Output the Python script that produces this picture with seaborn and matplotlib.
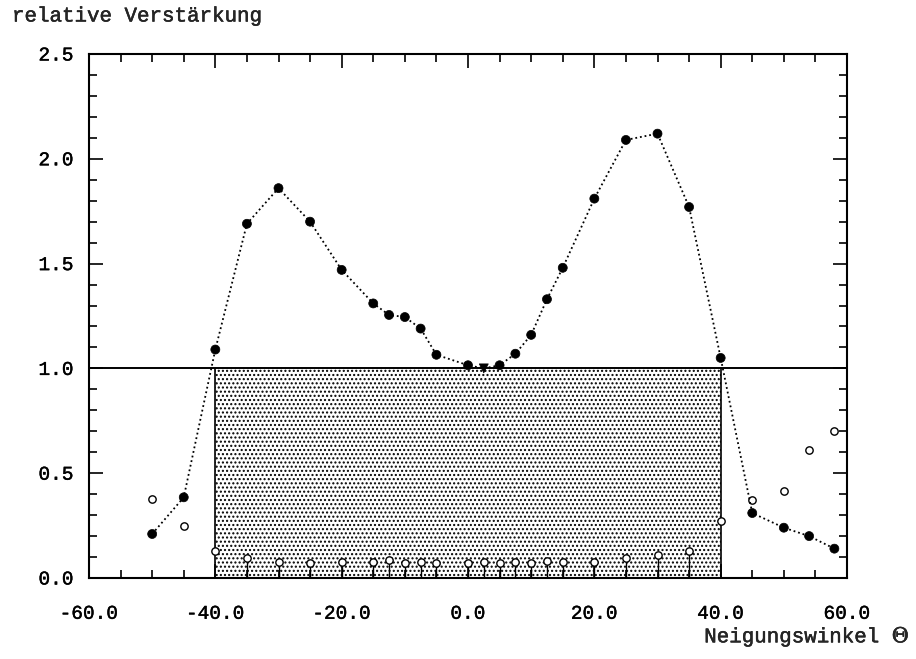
import matplotlib
matplotlib.use("Agg")
import matplotlib.pyplot as plt
import matplotlib.patheffects as pe
from matplotlib.ticker import MultipleLocator, FormatStrFormatter
import numpy as np
import pandas as pd
import seaborn as sns

# Neigungswinkel der Messpunkte (Grad)
winkel = [-50, -45, -40, -35, -30, -25, -20, -15, -12.5, -10, -7.5, -5, 0, 2.5,
          5, 7.5, 10, 12.5, 15, 20, 25, 30, 35, 40, 45, 50, 54, 58]
# relative Verstaerkung, Hauptmessung (gefuellte Symbole)
verstaerkung = [0.21, 0.385, 1.09, 1.69, 1.86, 1.70, 1.47, 1.31, 1.255, 1.245,
                1.19, 1.065, 1.015, 1.00, 1.015, 1.07, 1.16, 1.33, 1.48, 1.81,
                2.09, 2.12, 1.77, 1.05, 0.31, 0.24, 0.20, 0.14]
# Vergleichsmessung (offene Symbole)
vergleich = [0.375, 0.25, 0.13, 0.095, 0.076, 0.072, 0.076, 0.076, 0.086, 0.072,
             0.076, 0.072, 0.072, 0.076, 0.072, 0.076, 0.072, 0.08, 0.076, 0.076,
             0.095, 0.11, 0.13, 0.27, 0.37, 0.415, 0.61, 0.70]
# Winkel des Minimums (Dreieckssymbol)
minimum_winkel = 2.5
# Nutzbarer Winkelbereich und Referenzniveau
bereich = [-40, 40]
referenz = 1.0
# Achsenbeschriftung
x_ticks = [-60, -40, -20, 0, 20, 40, 60]
y_ticks = [0.0, 0.5, 1.0, 1.5, 2.0, 2.5]

df = pd.DataFrame({"winkel": winkel, "verstaerkung": verstaerkung,
                   "vergleich": vergleich})
df["form"] = np.where(df["winkel"] == minimum_winkel, "Dreieck", "Kreis")

sns.set_style("ticks")
plt.rcParams["font.family"] = ["Liberation Mono", "DejaVu Sans Mono"]
plt.rcParams["mathtext.fontset"] = "dejavuserif"
plt.rcParams["hatch.linewidth"] = 1.0
plt.rcParams["hatch.color"] = "black"

kraeftig = [pe.withStroke(linewidth=0.3, foreground="black")]

fig = plt.figure(figsize=(9.16, 6.59), dpi=100)
ax = fig.add_axes([89 / 916, 1 - 578 / 659, (847 - 89) / 916, (578 - 54) / 659])

# gepunktete Flaeche des nutzbaren Bereichs
ax.fill_between(bereich, 0, referenz, facecolor="none", edgecolor="black",
                hatch="....", linewidth=0, zorder=1)
ax.vlines(bereich, 0, referenz, color="black", lw=1.2, zorder=2)
ax.axhline(referenz, color="black", lw=1.4, zorder=2)

# Vergleichsmessung mit Stielen im nutzbaren Bereich
innen = df[(df["winkel"] > bereich[0]) & (df["winkel"] < bereich[1])]
ax.vlines(innen["winkel"], 0, innen["vergleich"] - 0.012, color="black",
          lw=1.0, zorder=3)
sns.scatterplot(data=df, x="winkel", y="vergleich", ax=ax, marker="o",
                s=28, facecolor="white", edgecolor="black", linewidth=1.0,
                zorder=4, legend=False)

# Hauptmessung: gepunktete Verbindungslinie und gefuellte Symbole
sns.lineplot(data=df, x="winkel", y="verstaerkung", ax=ax, color="black",
             lw=1.3, linestyle=(0, (1, 1.6)), zorder=5, legend=False,
             sort=False)
sns.scatterplot(data=df, x="winkel", y="verstaerkung", ax=ax, style="form",
                markers={"Kreis": "o", "Dreieck": "v"}, s=42, color="black",
                edgecolor="black", linewidth=0.5, zorder=6, legend=False)

ax.set_xlim(-60, 60)
ax.set_ylim(0, 2.5)
ax.set_xticks(x_ticks)
ax.set_yticks(y_ticks)
ax.xaxis.set_major_formatter(FormatStrFormatter("%.1f"))
ax.yaxis.set_major_formatter(FormatStrFormatter("%.1f"))
ax.xaxis.set_minor_locator(MultipleLocator(5))
ax.yaxis.set_minor_locator(MultipleLocator(0.1))
ax.tick_params(axis="both", which="both", direction="in", top=True,
               right=True, colors="black", width=1.2)
ax.tick_params(axis="both", which="major", length=10, labelsize=14)
ax.tick_params(axis="both", which="minor", length=5.5)
ax.tick_params(axis="x", which="major", pad=20)
ax.tick_params(axis="y", which="major", pad=11)
for sp in ax.spines.values():
    sp.set_linewidth(1.5)
    sp.set_color("black")
ax.set_xlabel("")
ax.set_ylabel("")
for lbl in ax.get_xticklabels() + ax.get_yticklabels():
    lbl.set_path_effects(kraeftig)

fig.text(12 / 916, 1 - 16 / 659, "relative Verstärkung", fontsize=15,
         ha="left", va="center", path_effects=kraeftig)
fig.text(910 / 916, 1 - 637 / 659, r"Neigungswinkel $\Theta$", fontsize=15,
         ha="right", va="center", path_effects=kraeftig)

fig.savefig("out.png", dpi=100, facecolor="white")
